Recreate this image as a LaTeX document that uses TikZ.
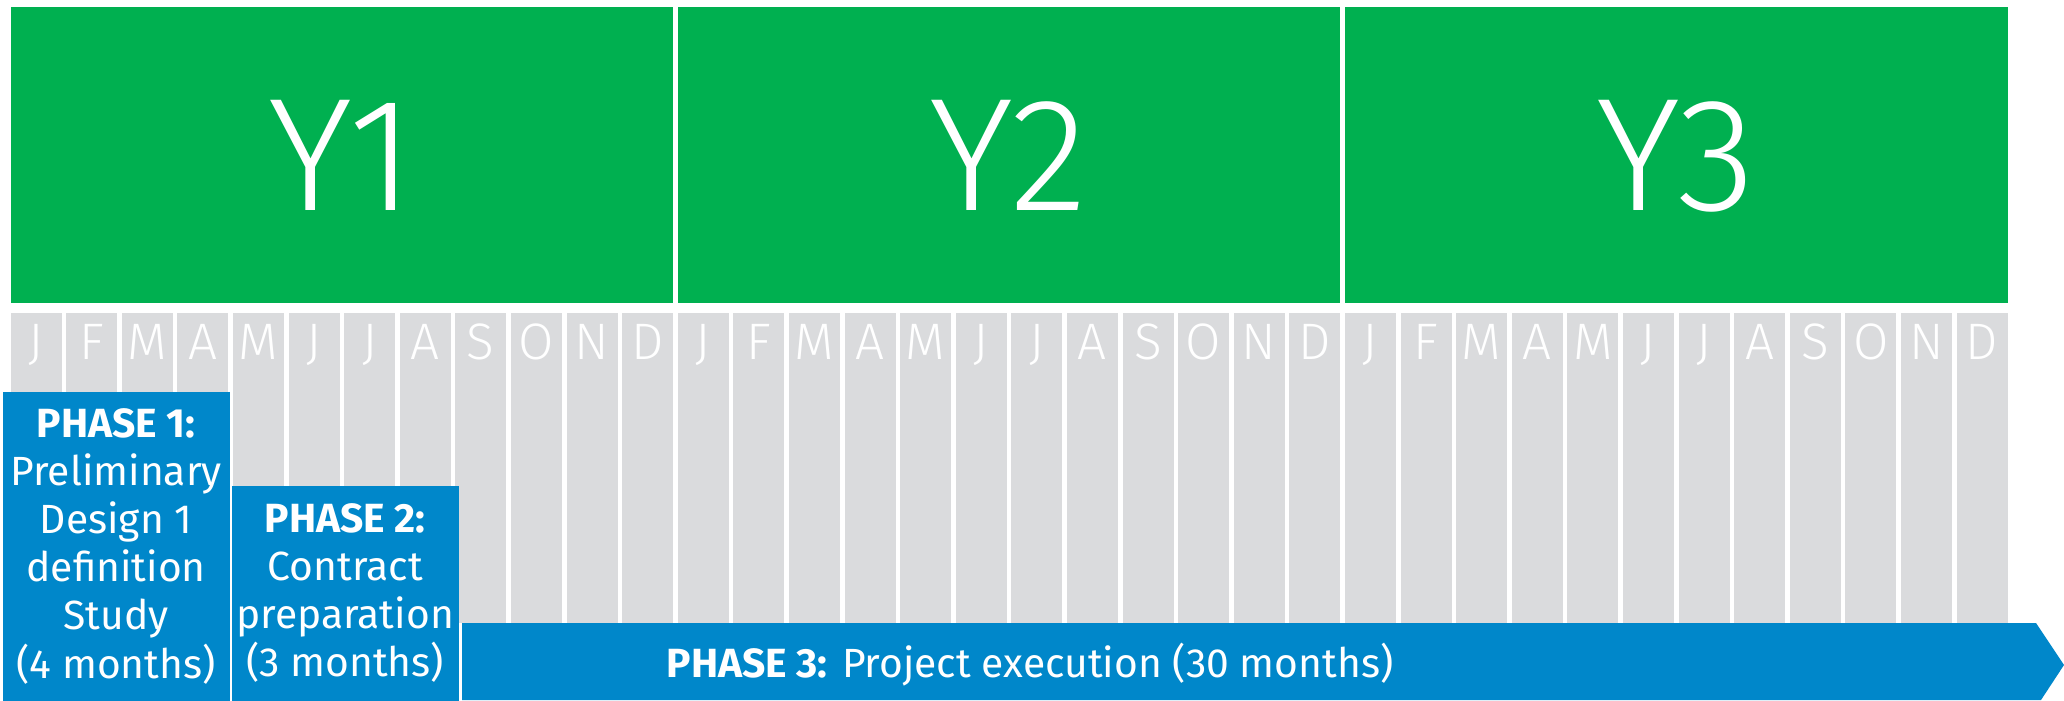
\documentclass[tikz,border=0pt]{standalone}
\usepackage{fontspec}
\setmainfont{Fira Sans}
\newfontfamily\thinfont{Fira Sans Light}
\definecolor{yeargreen}{HTML}{00B050}
\definecolor{monthgrey}{HTML}{DADBDD}
\definecolor{phaseblue}{HTML}{0087CA}
\tikzset{
  year/.style={text=white, anchor=base, font=\thinfont\fontsize{45.8}{50}\selectfont},
  month/.style={text=white, anchor=base, font=\thinfont\fontsize{14.6}{16}\selectfont},
  phase/.style={fill=phaseblue, text=white, align=center, inner sep=0pt, anchor=north west, font=\fontsize{11.6}{13.7}\selectfont},
}

\begin{document}
\begin{tikzpicture}[x=0.1mm,y=-0.1mm]
\useasboundingbox (0,0) rectangle (2064,700);
\fill[white] (0,0) rectangle (2064,700);

% one green block per year
\foreach \y in {1,2,3} {
  \pgfmathsetmacro{\xl}{10.5+667.2*(\y-1)}
  \pgfmathsetmacro{\xr}{\xl+662.6}
  \fill[yeargreen] (\xl,7) rectangle (\xr,303);
  \node[year] (y\y) at ({(\xl+\xr)/2},210) {Y\y};
}

% month columns
\foreach \y in {0,1,2}
\foreach \m [count=\k from 0] in {J,F,M,A,M,J,J,A,S,O,N,D} {
  \pgfmathsetmacro{\xl}{10.5+55.6*(12*\y+\k)}
  \fill[monthgrey] (\xl,313) rectangle ++(51,310);
  \node[month] (m\y-\k) at ({\xl+25.5},359) {\m};
}

% phases
\node[phase, minimum width=22.7mm, minimum height=30.9mm] (ph1) at (2,391)
  {\textbf{PHASE 1:}\\Preliminary\\Design 1\\definition\\Study\\(4 months)};
\node[phase, minimum width=22.7mm, minimum height=21.5mm] (ph2) at (231,485)
  {\textbf{PHASE 2:}\\Contract\\preparation\\(3 months)};
\fill[phaseblue] (462,623) -- (2036,623) -- (2064,665) -- (2041,700) -- (462,700) -- cycle;
\node[text=white, anchor=base, font=\fontsize{11.6}{13.7}\selectfont] (ph3) at (1030,677)
  {\textbf{PHASE 3:} Project execution (30 months)};
\end{tikzpicture}
\end{document}
